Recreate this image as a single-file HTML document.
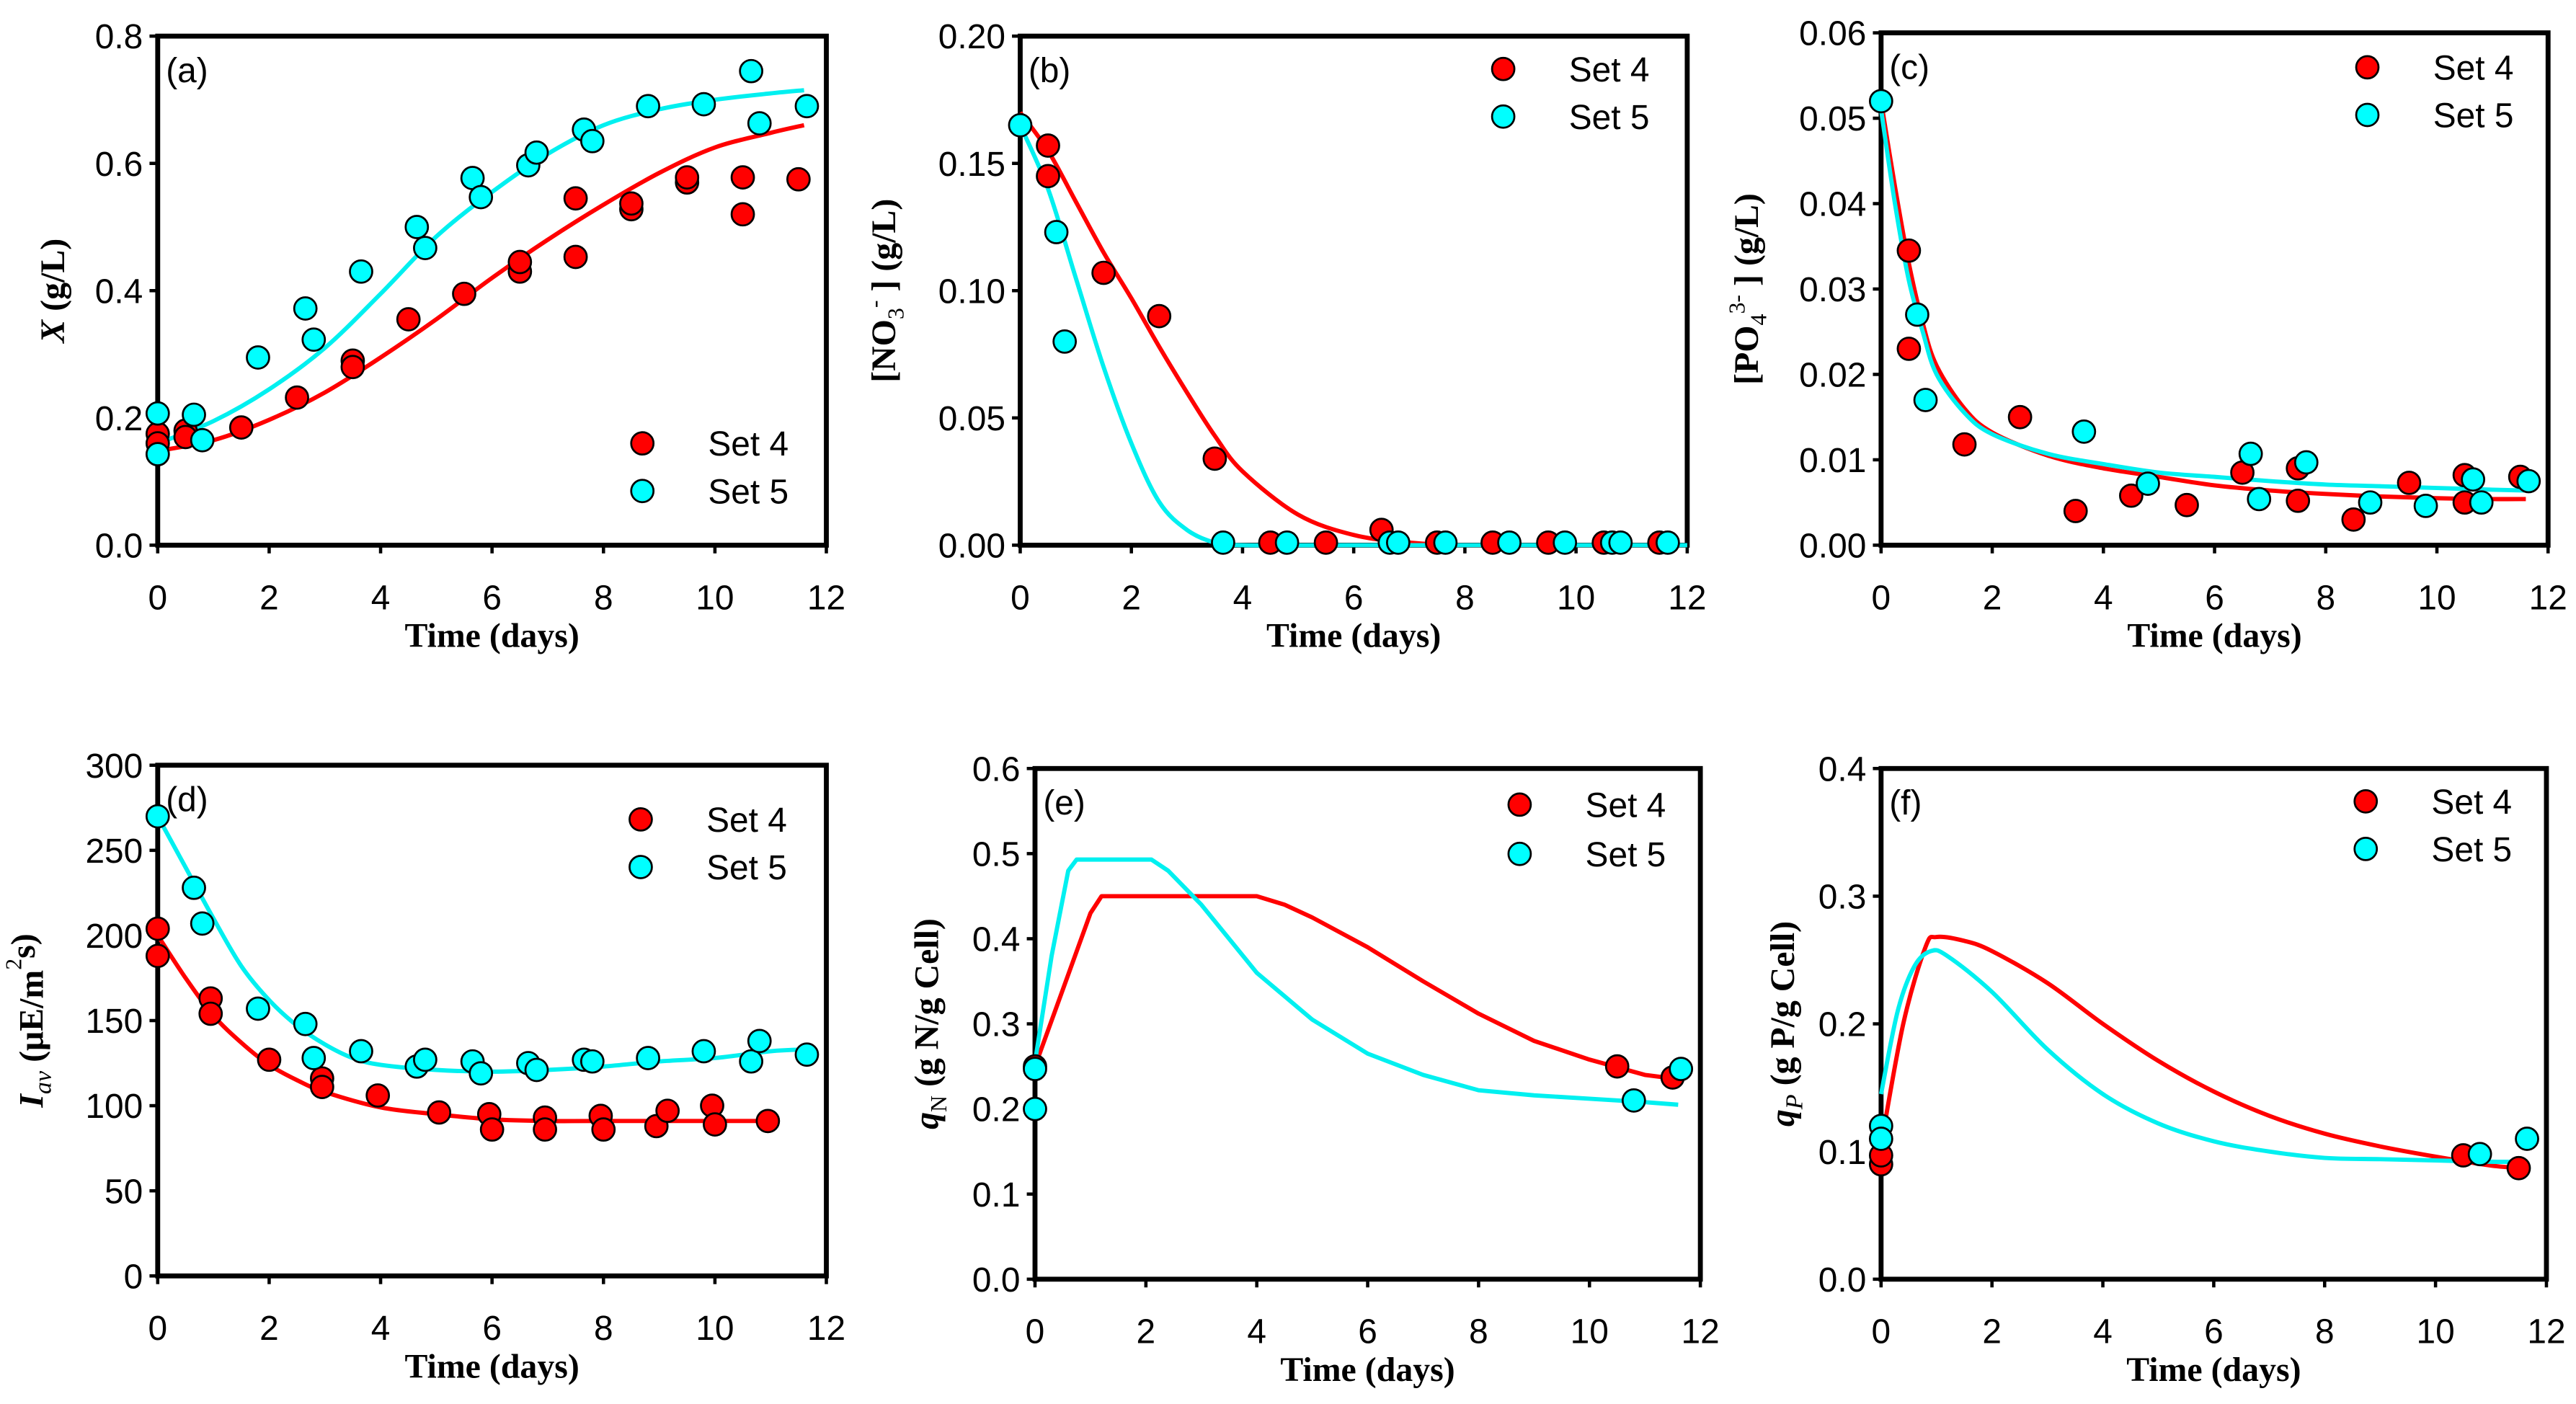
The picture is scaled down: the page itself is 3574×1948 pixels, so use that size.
<!DOCTYPE html>
<html><head><meta charset="utf-8"><style>
html,body{margin:0;padding:0;background:#fff;}
svg{display:block;}
</style></head><body>
<svg id="fig" xmlns="http://www.w3.org/2000/svg" width="3574" height="1948" viewBox="0 0 1568 855" preserveAspectRatio="none"></svg>
<script>
// ---------- Panel (a) X (g/L)
const aS4x=[0,0,0.5,0.5,1.5,2.5,3.5,3.5,4.5,5.5,6.5,6.5,7.5,7.5,8.5,8.5,9.5,9.5,10.5,10.5,11.5];
const aS4y=[0.175,0.16,0.18,0.17,0.185,0.232,0.29,0.28,0.355,0.395,0.43,0.445,0.545,0.453,0.528,0.537,0.57,0.578,0.578,0.52,0.575];
const aS5x=[0,0,0.65,0.8,1.8,2.65,2.8,3.65,4.65,4.8,5.65,5.8,6.65,6.8,7.65,7.8,8.8,9.8,10.65,10.8,11.65];
const aS5y=[0.207,0.143,0.205,0.165,0.295,0.372,0.323,0.43,0.5,0.467,0.577,0.547,0.597,0.617,0.653,0.635,0.69,0.693,0.745,0.663,0.69];
const aC4x=[0,1,2,3,4,5,6,7,8,9,10,11,11.6];
const aC4y=[0.148,0.165,0.197,0.24,0.295,0.355,0.42,0.48,0.535,0.585,0.625,0.648,0.66];
const aC5x=[0,1,2,3,4,5,6,7,8,9,10,11,11.6];
const aC5y=[0.16,0.195,0.245,0.31,0.395,0.485,0.555,0.615,0.66,0.685,0.7,0.71,0.715];
const aTicks=["0.0","0.2","0.4","0.6","0.8"];
// ---------- Panel (b) NO3
const bS4x=[0.5,0.5,1.5,2.5,3.5,4.5,5.5,6.5,7.5,8.5,9.5,10.5,11.5];
const bS4y=[0.157,0.145,0.107,0.09,0.034,0.001,0.001,0.006,0.001,0.001,0.001,0.001,0.001];
const bS5x=[0,0.65,0.8,3.65,4.8,6.65,6.8,7.65,8.8,9.8,10.65,10.8,11.65];
const bS5y=[0.165,0.123,0.08,0.001,0.001,0.001,0.001,0.001,0.001,0.001,0.001,0.001,0.001];
const bC4x=[0,0.5,1,1.5,2,2.5,3,3.5,4,5,6,7,8,10,12];
const bC4y=[0.17,0.155,0.135,0.115,0.097,0.078,0.06,0.043,0.029,0.012,0.004,0.001,0,0,0];
const bC5x=[0,0.5,1,1.5,2,2.5,3,3.5,4,6,12];
const bC5y=[0.165,0.14,0.105,0.07,0.04,0.017,0.006,0.001,0,0,0];
const bTicks=["0.00","0.05","0.10","0.15","0.20"];
// ---------- Panel (c) PO4
const cS4x=[0.5,0.5,1.5,2.5,3.5,4.5,5.5,6.5,7.5,7.5,8.5,9.5,10.5,10.5,11.5];
const cS4y=[0.0345,0.023,0.0118,0.015,0.004,0.0058,0.0047,0.0085,0.009,0.0052,0.003,0.0073,0.0082,0.005,0.008];
const cS5x=[0,0.65,0.8,3.65,4.8,6.65,6.8,7.65,8.8,9.8,10.65,10.8,11.65];
const cS5y=[0.052,0.027,0.017,0.0133,0.0072,0.0107,0.0054,0.0097,0.005,0.0046,0.0077,0.005,0.0075];
const cC4x=[0,0.25,0.5,0.75,1,1.5,2,3,4,5,6,7,8,9,10,11,11.6];
const cC4y=[0.052,0.042,0.033,0.026,0.021,0.016,0.0132,0.0105,0.009,0.008,0.007,0.0064,0.006,0.0057,0.0055,0.0054,0.0054];
const cC5x=[0,0.25,0.5,0.75,1,1.5,2,3,4,5,6,7,8,9,10,11,11.6];
const cC5y=[0.051,0.04,0.031,0.025,0.02,0.0155,0.013,0.0107,0.0095,0.0085,0.008,0.0075,0.0071,0.0069,0.0067,0.0065,0.0064];
const cTicks=["0.00","0.01","0.02","0.03","0.04","0.05","0.06"];
// ---------- Panel (d) Iav
const dS4x=[0,0,0.95,0.95,2,2.95,2.95,3.95,5.05,5.95,6.0,6.95,6.95,7.95,8.0,8.95,9.15,9.95,10.0,10.95];
const dS4y=[204,188,163,154,127,116,111,106,96,95,86,93,86,94,86,88,97,100,89,91];
const dS5x=[0,0.65,0.8,1.8,2.65,2.8,3.65,4.65,4.8,5.65,5.8,6.65,6.8,7.65,7.8,8.8,9.8,10.65,10.8,11.65];
const dS5y=[270,228,207,157,148,128,132,123,127,126,119,125,121,127,126,128,132,126,138,130];
const dC4x=[0,0.5,1,1.5,2,2.5,3,4,5,6,7,8,11];
const dC4y=[200,175,153,137,124,115,108,99,95,92,91,91,91];
const dC5x=[0,0.5,1,1.5,2,2.5,3,3.5,4,5,6,7,8,9,10,11,11.6];
const dC5y=[270,240,210,182,162,147,136,128,124,121,120,121,123,126,128,132,133];
const dTicks=["0","50","100","150","200","250","300"];
// ---------- Panel (e) qN
const eS4x=[0,10.5,11.5];
const eS4y=[0.25,0.25,0.237];
const eS5x=[0,0,10.8,11.65];
const eS5y=[0.247,0.2,0.21,0.247];
const eC4x=[0,0.5,1,1.2,4,4.5,5,6,7,8,9,10,11,11.6];
const eC4y=[0.25,0.34,0.43,0.45,0.45,0.44,0.425,0.39,0.35,0.312,0.28,0.258,0.24,0.235];
const eC5x=[0,0.3,0.6,0.75,2.1,2.4,3,4,5,6,7,8,9,10,11,11.6];
const eC5y=[0.255,0.38,0.48,0.493,0.493,0.48,0.44,0.36,0.305,0.265,0.24,0.222,0.216,0.212,0.208,0.205];
const eTicks=["0.0","0.1","0.2","0.3","0.4","0.5","0.6"];
// ---------- Panel (f) qP
const fS4x=[0,0,10.5,11.5];
const fS4y=[0.09,0.097,0.097,0.087];
const fS5x=[0,0,10.8,11.65];
const fS5y=[0.12,0.11,0.098,0.11];
const fC4x=[0,0.4,0.8,1,1.5,2,3,4,5,6,7,8,9,10,11,11.6];
const fC4y=[0.105,0.2,0.26,0.268,0.265,0.257,0.232,0.2,0.171,0.147,0.128,0.114,0.104,0.096,0.089,0.087];
const fC5x=[0,0.3,0.6,0.9,1.2,2,3,4,5,6,7,8,9,10,11,11.6];
const fC5y=[0.145,0.21,0.245,0.257,0.253,0.225,0.18,0.145,0.122,0.108,0.1,0.095,0.094,0.093,0.092,0.092];
const fTicks=["0.0","0.1","0.2","0.3","0.4"];
const xTicks=["0","2","4","6","8","10","12"];

const NS="http://www.w3.org/2000/svg";
const svg=document.getElementById('fig');
function mk(tag,attrs,parent){const e=document.createElementNS(NS,tag);for(const k in attrs)e.setAttribute(k,attrs[k]);(parent||svg).appendChild(e);return e;}

function smoothPath(P){
  if(P.length<3)return 'M'+P.map(p=>p.join(',')).join(' L');
  let d='M'+P[0][0].toFixed(2)+','+P[0][1].toFixed(2);
  for(let i=0;i<P.length-1;i++){
    const p0=P[i-1]||P[i],p1=P[i],p2=P[i+1],p3=P[i+2]||P[i+1];
    const c1=[p1[0]+(p2[0]-p0[0])/6,p1[1]+(p2[1]-p0[1])/6];
    const c2=[p2[0]-(p3[0]-p1[0])/6,p2[1]-(p3[1]-p1[1])/6];
    d+=` C${c1[0].toFixed(2)},${c1[1].toFixed(2)} ${c2[0].toFixed(2)},${c2[1].toFixed(2)} ${p2[0].toFixed(2)},${p2[1].toFixed(2)}`;
  }
  return d;
}

function panel(id,L,R,T,B,ymax,yTicks,s4x,s4y,s5x,s5y,c4x,c4y,c5x,c5y,legY,titleX,titleParts,smooth){
  const g=mk('g',{});
  
  
  const xs=v=>L+(R-L)*v/12, ys=v=>B-(B-T)*v/ymax;
  const fr=mk('rect',{x:L,y:T,width:R-L,height:B-T,fill:'none',stroke:'#000','stroke-width':3},g);
  
  
  yTicks.forEach((t,i)=>{const v=ymax*i/(yTicks.length-1);const y=ys(v);
    mk('line',{x1:L-5,x2:L,y1:y,y2:y,stroke:'#000','stroke-width':2},g);
    const tx=mk('text',{x:L-9,y:y+7.5,'text-anchor':'end','font-family':'Liberation Sans, sans-serif','font-size':21},g);
    tx.textContent=t;
    
    });
  xTicks.forEach((t,i)=>{const x=xs(+t);
    mk('line',{x1:x,x2:x,y1:B,y2:B+5,stroke:'#000','stroke-width':2},g);
    const tx=mk('text',{x:x,y:B+39,'text-anchor':'middle','font-family':'Liberation Sans, sans-serif','font-size':21},g);
    tx.textContent=t;
    
    });
  const xt=mk('text',{x:(L+R)/2,y:B+62,'text-anchor':'middle','font-family':'Liberation Serif, serif','font-size':21,'font-weight':'bold'},g);
  xt.textContent='Time (days)';
  
  
  const cy=(T+B)/2;
  const yt=mk('text',{x:0,y:0,transform:`translate(${titleX},${cy}) rotate(-90)`,'text-anchor':'middle','font-family':'Liberation Serif, serif','font-size':21,'font-weight':'bold'},g);
  
  
  titleParts.forEach(p=>{const ts=mk('tspan',{},yt);ts.textContent=p[0];
    if(p[1]==='i')ts.setAttribute('font-style','italic');
    if(p[1]==='sub'){ts.setAttribute('dy','5');ts.setAttribute('font-size','14');ts.setAttribute('font-weight','normal');}
    if(p[1]==='sup'){ts.setAttribute('dy','-13');ts.setAttribute('font-size','14');ts.setAttribute('font-weight','normal');}
    if(p[1]==='isub'){ts.setAttribute('dy','5');ts.setAttribute('font-size','15');ts.setAttribute('font-style','italic');ts.setAttribute('font-weight','normal');}
    if(p[1]==='back'){ts.setAttribute('dy','8');}
    if(p[1]==='back2'){ts.setAttribute('dy','-5');}
  });
  const pl=mk('text',{x:L+5,y:T+28,'font-family':'Liberation Sans, sans-serif','font-size':21},g);
  pl.textContent='('+id+')';
  
  
  [[c4x,c4y,'#ff0000','fit-curve-set4'],[c5x,c5y,'#00f0f0','fit-curve-set5']].forEach(c=>{
    const P=c[0].map((x,i)=>[xs(x),ys(c[1][i])]);
    let el;
    if(smooth){el=mk('path',{d:smoothPath(P),fill:'none',stroke:c[2],'stroke-width':2.6,'stroke-linejoin':'round'},g);}
    else{el=mk('polyline',{points:P.map(p=>p[0].toFixed(2)+','+p[1].toFixed(2)).join(' '),fill:'none',stroke:c[2],'stroke-width':2.6,'stroke-linejoin':'round'},g);}
    
    
  });
  [[s4x,s4y,'#ff0000','point-set4'],[s5x,s5y,'#00ffff','point-set5']].forEach(s=>{
    s[0].forEach((x,i)=>{const c=mk('circle',{cx:xs(x),cy:ys(s[1][i]),r:6.8,fill:s[2],stroke:'#000','stroke-width':1.2},g);
      
      });
  });
  const lx=legY[0];
  [['Set 4','#ff0000',legY[1]],['Set 5','#00ffff',legY[2]]].forEach(l=>{
    const c=mk('circle',{cx:lx,cy:l[2],r:6.8,fill:l[1],stroke:'#000','stroke-width':1.2},g);
    
    
    const t=mk('text',{x:lx+40,y:l[2]+7.5,'font-family':'Liberation Sans, sans-serif','font-size':21},g);
    t.textContent=l[0];
    
    
  });
}
panel('a',96,503,22,332,0.8,aTicks,aS4x,aS4y,aS5x,aS5y,aC4x,aC4y,aC5x,aC5y,[391,270,299],39,[['X','i'],[' (g/L)','']],true);
panel('b',621,1027,22,332,0.20,bTicks,bS4x,bS4y,bS5x,bS5y,bC4x,bC4y,bC5x,bC5y,[915,42,71],545,[['[NO',''],['3','sub'],['-','sup'],[' ] (g/L)','back']],true);
panel('c',1145,1551,20,332,0.06,cTicks,cS4x,cS4y,cS5x,cS5y,cC4x,cC4y,cC5x,cC5y,[1441,41,70],1070,[['[PO',''],['4','sub'],['3-','sup'],[' ] (g/L)','back']],true);
panel('d',96,503,466,777,300,dTicks,dS4x,dS4y,dS5x,dS5y,dC4x,dC4y,dC5x,dC5y,[390,499,528],26,[['I','i'],['av','isub'],[' (μE/m','back2'],['2','sup'],['s)','back']],true);
panel('e',630,1035,468,779,0.6,eTicks,eS4x,eS4y,eS5x,eS5y,eC4x,eC4y,eC5x,eC5y,[925,490,520],571,[['q','i'],['N','sub'],[' (g N/g Cell)','back2']],false);
panel('f',1145,1550,468,779,0.4,fTicks,fS4x,fS4y,fS5x,fS5y,fC4x,fC4y,fC5x,fC5y,[1440,488,517],1092,[['q','i'],['P','isub'],[' (g P/g Cell)','back2']],true);
</script>
</body></html>
